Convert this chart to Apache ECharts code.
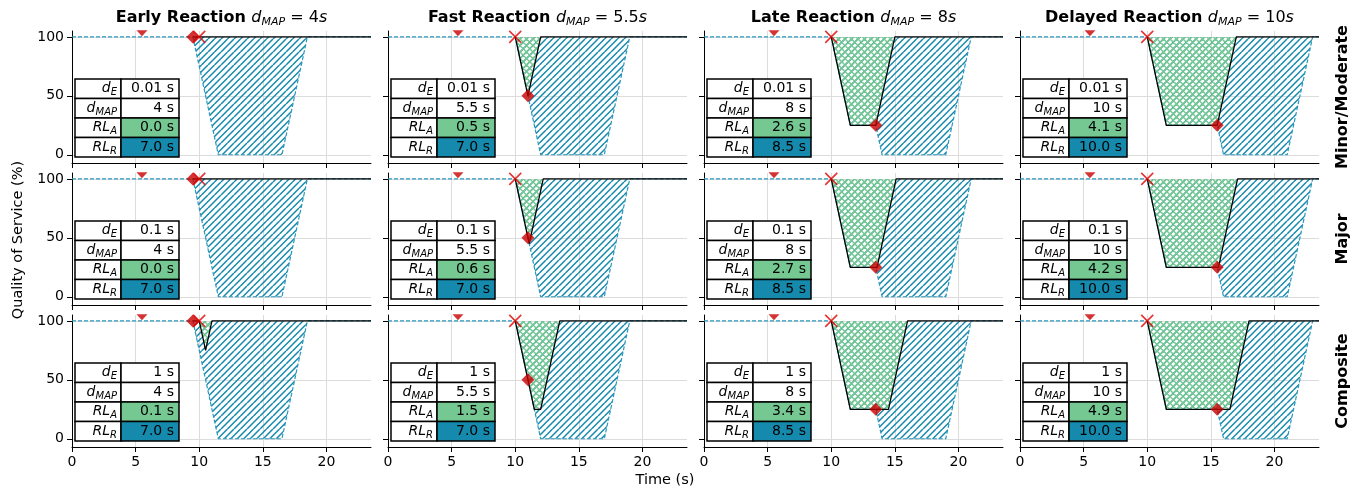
<!DOCTYPE html>
<html>
<head>
<meta charset="utf-8">
<script src="https://cdn.jsdelivr.net/npm/echarts@6/dist/echarts.min.js"></script>
<style>
html, body { margin: 0; padding: 0; background: #fff; }
#main { width: 1362px; height: 492px; }
</style>
</head>
<body>
<div id="main"></div>
<script>
//columns: reaction scenarios
var reactionNames = ['Early Reaction', 'Fast Reaction', 'Late Reaction', 'Delayed Reaction'];
var dMapValues = ['4', '5.5', '8', '10'];
var reactionTimes = [9.5, 11, 13.5, 15.5];
var reactionQoS = [100, 50, 25, 25];

//rows: disruption types
var disruptionNames = ['Minor/Moderate', 'Major', 'Composite'];
var dEValues = ['0.01', '0.1', '1'];
var rlAValues = [
	['0.0', '0.5', '2.6', '4.1'],
	['0.0', '0.6', '2.7', '4.2'],
	['0.1', '1.5', '3.4', '4.9']
];
var rlRValues = ['7.0', '7.0', '8.5', '10.0'];

var eventTime = 5.5;
var eventMark = 103;
var disruptionTime = 10;

var xTicks = [0, 5, 10, 15, 20];
var yTicks = [0, 50, 100];

//unmitigated QoS (dashed), one per column
var refCurves = [
	[[0, 100], [9.5, 100], [11.5, 0], [16.5, 0], [18.5, 100], [23.5, 100]],
	[[0, 100], [10, 100], [12, 0], [17, 0], [19, 100], [23.5, 100]],
	[[0, 100], [10, 100], [11.5, 25], [13.5, 25], [14, 0], [19, 0], [21, 100], [23.5, 100]],
	[[0, 100], [10, 100], [11.5, 25], [15.5, 25], [16, 0], [21, 0], [23, 100], [23.5, 100]]
];

//QoS with reaction (black)
var qosMinor = [
	[[9.5, 100], [23.5, 100]],
	[[10, 100], [11, 50], [12, 100], [23.5, 100]],
	[[10, 100], [11.5, 25], [13.5, 25], [15, 100], [23.5, 100]],
	[[10, 100], [11.5, 25], [15.5, 25], [17, 100], [23.5, 100]]
];
var qosMajor = [
	[[9.5, 100], [23.5, 100]],
	[[10, 100], [11.1, 45], [12.2, 100], [23.5, 100]],
	[[10, 100], [11.5, 25], [13.6, 25], [15.1, 100], [23.5, 100]],
	[[10, 100], [11.5, 25], [15.6, 25], [17.1, 100], [23.5, 100]]
];
var qosComposite = [
	[[9.5, 100], [10, 100], [10.5, 75], [11, 100], [23.5, 100]],
	[[10, 100], [11.5, 25], [12, 25], [13.5, 100], [23.5, 100]],
	[[10, 100], [11.5, 25], [14.5, 25], [16, 100], [23.5, 100]],
	[[10, 100], [11.5, 25], [16.5, 25], [18, 100], [23.5, 100]]
];
var qosCurves = [qosMinor, qosMajor, qosComposite];

//layout
var gridLefts = [72, 388, 704, 1020];
var gridTops = [31, 173, 315];
var gridW = 299, gridH = 132;
var FONT = 'DejaVu Sans';
var GREEN = '#76c893', BLUE = '#168aad';

//hatch pattern on a small canvas
function makeHatch(color, cross) {
	var size = 13, step = 6.5;
	var cv = document.createElement('canvas');
	cv.width = size;
	cv.height = size;
	var ctx = cv.getContext('2d');
	ctx.strokeStyle = color;
	ctx.lineWidth = 1.5;
	ctx.beginPath();
	for (var o = -2 * size; o <= 2 * size; o += step) {
		ctx.moveTo(o, size);
		ctx.lineTo(o + size, 0);
		if (cross) {
			ctx.moveTo(o, 0);
			ctx.lineTo(o + size, size);
		}
	}
	ctx.stroke();
	return cv;
}

var blueHatch = { image: makeHatch(BLUE, false), repeat: 'repeat' };
var greenHatch = { image: makeHatch(GREEN, true), repeat: 'repeat' };

//polygon from data points through the axes
function areaRenderer(points, pattern) {
	return function(params, api) {
		var pts = [];
		for (var i = 0; i < points.length; i++) {
			pts.push(api.coord(points[i]));
		}
		return {
			type: 'polygon',
			shape: { points: pts },
			style: { fill: pattern, stroke: null }
		};
	};
}

var mathRich = {
	i: { fontFamily: FONT, fontStyle: 'italic', fontSize: 14, fill: '#000' },
	s: { fontFamily: FONT, fontStyle: 'italic', fontSize: 10, fill: '#000', padding: [8, 0, 0, 0] }
};
var tableLabels = ['{i|d}{s|E}', '{i|d}{s|MAP}', '{i|RL}{s|A}', '{i|RL}{s|R}'];

function buildTable(left, top, values) {
	var w1 = 46, w2 = 58, rh = 19.5;
	var fills = ['#fff', '#fff', GREEN, BLUE];
	var els = [];
	for (var i = 0; i < 4; i++) {
		var y = top + i * rh;
		els.push({ type: 'rect', z: 100, shape: { x: left, y: y, width: w1, height: rh },
			style: { fill: '#fff', stroke: '#000', lineWidth: 1.5 } });
		els.push({ type: 'rect', z: 100, shape: { x: left + w1, y: y, width: w2, height: rh },
			style: { fill: fills[i], stroke: '#000', lineWidth: 1.5 } });
		els.push({ type: 'text', z: 101, x: left + w1 - 4, y: y + rh / 2,
			style: { text: tableLabels[i], rich: mathRich, align: 'right', verticalAlign: 'middle' } });
		els.push({ type: 'text', z: 101, x: left + w1 + w2 - 5, y: y + rh / 2,
			style: { text: values[i], font: '14px ' + FONT, fill: '#000', align: 'right', verticalAlign: 'middle' } });
	}
	return els;
}

var titleRich = {
	b: { fontFamily: FONT, fontWeight: 'bold', fontSize: 16, fill: '#000' },
	i: { fontFamily: FONT, fontStyle: 'italic', fontSize: 16, fill: '#000' },
	n: { fontFamily: FONT, fontSize: 16, fill: '#000' },
	s: { fontFamily: FONT, fontStyle: 'italic', fontSize: 11, fill: '#000', padding: [9, 0, 0, 0] }
};

var grids = [], xAxes = [], yAxes = [], series = [], graphics = [];

for (var r = 0; r < 3; r++) {
	for (var c = 0; c < 4; c++) {
		var idx = r * 4 + c;
		grids.push({ left: gridLefts[c], top: gridTops[r], width: gridW, height: gridH });
		xAxes.push({
			type: 'value', gridIndex: idx, min: 0, max: 23.5,
			axisLine: { show: true, onZero: false, lineStyle: { color: '#000', width: 1 } },
			axisTick: { show: true, length: 5, customValues: xTicks, lineStyle: { color: '#000', width: 1 } },
			axisLabel: { show: r == 2, customValues: xTicks, margin: 8, color: '#000', fontSize: 14, fontFamily: FONT },
			splitLine: { show: true, lineStyle: { color: '#dcdcdc', width: 1 } }
		});
		yAxes.push({
			type: 'value', gridIndex: idx, min: -7, max: 105,
			axisLine: { show: true, onZero: false, lineStyle: { color: '#000', width: 1 } },
			axisTick: { show: true, length: 5, customValues: yTicks, lineStyle: { color: '#000', width: 1 } },
			axisLabel: { show: c == 0, customValues: yTicks, margin: 8, color: '#000', fontSize: 14, fontFamily: FONT },
			splitLine: { show: true, lineStyle: { color: '#dcdcdc', width: 1 } }
		});

		var ref = refCurves[c];
		var qos = qosCurves[r][c];

		series.push({ type: 'custom', xAxisIndex: idx, yAxisIndex: idx, silent: true, z: 2,
			renderItem: areaRenderer(ref, blueHatch), data: [[0, 100]] });
		series.push({ type: 'custom', xAxisIndex: idx, yAxisIndex: idx, silent: true, z: 2,
			renderItem: areaRenderer(qos, greenHatch), data: [[0, 100]] });
		series.push({ type: 'line', xAxisIndex: idx, yAxisIndex: idx, silent: true, z: 3,
			data: ref, showSymbol: false,
			lineStyle: { color: '#2b97bd', width: 1.2, type: [4, 2] } });
		series.push({ type: 'line', xAxisIndex: idx, yAxisIndex: idx, silent: true, z: 4,
			data: qos, showSymbol: false,
			lineStyle: { color: '#000', width: 1.3 } });
		series.push({ type: 'scatter', xAxisIndex: idx, yAxisIndex: idx, silent: true, z: 5,
			data: [[eventTime, eventMark]], symbol: 'triangle', symbolRotate: 180, symbolSize: [11, 6],
			itemStyle: { color: '#c80000' } });
		series.push({ type: 'scatter', xAxisIndex: idx, yAxisIndex: idx, silent: true, z: 5,
			data: [[reactionTimes[c], reactionQoS[c]]], symbol: 'diamond', symbolSize: 13,
			itemStyle: { color: '#c80000' } });
		series.push({ type: 'scatter', xAxisIndex: idx, yAxisIndex: idx, silent: true, z: 6,
			data: [[disruptionTime, 100]], symbol: 'path://M0,0L10,10M10,0L0,10', symbolSize: 12,
			itemStyle: { color: 'rgba(0,0,0,0)', borderColor: '#e00000', borderWidth: 1.6 } });

		var vals = [dEValues[r] + ' s', dMapValues[c] + ' s', rlAValues[r][c] + ' s', rlRValues[c] + ' s'];
		graphics = graphics.concat(buildTable(gridLefts[c] + 3, gridTops[r] + 48, vals));
	}
}

//column titles
for (var c = 0; c < 4; c++) {
	graphics.push({ type: 'text', z: 101, x: gridLefts[c] + gridW / 2, y: 18,
		style: { text: '{b|' + reactionNames[c] + ' }{i|d}{s|MAP}{n| = ' + dMapValues[c] + '}{i|s}',
			rich: titleRich, align: 'center', verticalAlign: 'middle' } });
}

//row labels
for (var r = 0; r < 3; r++) {
	graphics.push({ type: 'text', z: 101, x: 1343, y: gridTops[r] + gridH / 2, rotation: Math.PI / 2,
		style: { text: disruptionNames[r], font: 'bold 16px ' + FONT, fill: '#000', align: 'center', verticalAlign: 'middle' } });
}

graphics.push({ type: 'text', z: 101, x: 18, y: 240, rotation: Math.PI / 2,
	style: { text: 'Quality of Service (%)', font: '14.5px ' + FONT, fill: '#000', align: 'center', verticalAlign: 'middle' } });
graphics.push({ type: 'text', z: 101, x: 665, y: 480,
	style: { text: 'Time (s)', font: '14.5px ' + FONT, fill: '#000', align: 'center', verticalAlign: 'middle' } });

var chart = echarts.init(document.getElementById('main'));
chart.setOption({
	animation: false,
	backgroundColor: '#fff',
	grid: grids,
	xAxis: xAxes,
	yAxis: yAxes,
	series: series,
	graphic: graphics
});
</script>
</body>
</html>
